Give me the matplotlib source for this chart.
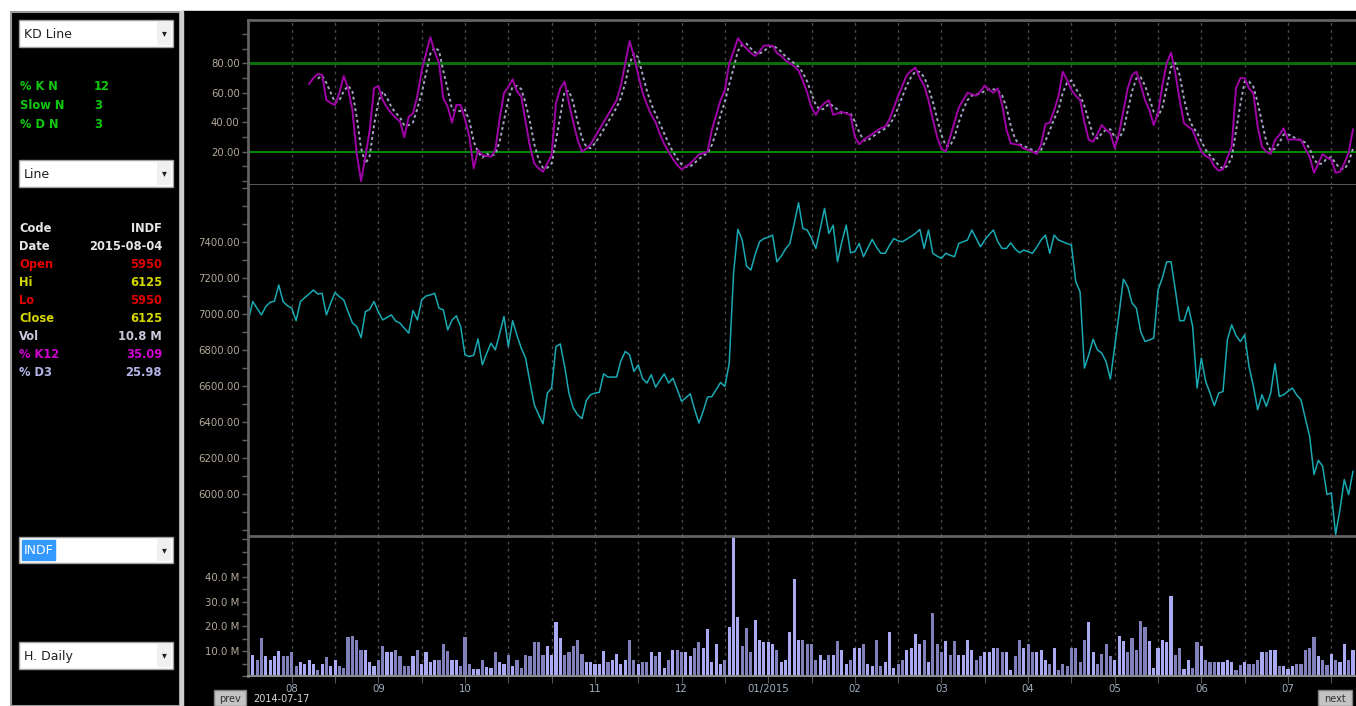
import numpy as np
import pandas as pd
import matplotlib
matplotlib.use('Agg')
import matplotlib.pyplot as plt
from matplotlib.patches import Rectangle
from matplotlib.ticker import FuncFormatter, MultipleLocator

# ---- data (INDF daily, 2014-07-17 .. 2015-08-04) ----
close = [6966, 7068, 7030, 6994, 7040, 7064, 7070, 7160, 7068, 7045,
         7031, 6962, 7068, 7090, 7110, 7132, 7110, 7114, 6994, 7060,
         7118, 7095, 7077, 7012, 6950, 6929, 6868, 7012, 7025, 7068,
         7010, 6966, 6980, 6994, 6960, 6948, 6920, 6893, 7018, 6966,
         7077, 7099, 7105, 7114, 7031, 7022, 6911, 6965, 6989, 6929,
         6772, 6763, 6770, 6861, 6717, 6780, 6837, 6800, 6890, 6985,
         6818, 6962, 6880, 6809, 6754, 6620, 6495, 6440, 6390, 6560,
         6588, 6818, 6833, 6708, 6560, 6477, 6440, 6418, 6519, 6551,
         6560, 6564, 6667, 6649, 6649, 6649, 6740, 6791, 6772, 6680,
         6717, 6640, 6616, 6662, 6593, 6630, 6667, 6616, 6643, 6580,
         6514, 6535, 6556, 6470, 6394, 6460, 6538, 6541, 6580, 6619,
         6597, 6726, 7225, 7469, 7409, 7265, 7243, 7330, 7400, 7418,
         7425, 7437, 7289, 7320, 7360, 7391, 7500, 7616, 7474, 7465,
         7420, 7363, 7470, 7585, 7446, 7492, 7289, 7400, 7492, 7339,
         7345, 7391, 7317, 7365, 7413, 7370, 7336, 7336, 7380, 7418,
         7405, 7400, 7415, 7430, 7446, 7469, 7363, 7465, 7336, 7320,
         7308, 7336, 7325, 7317, 7391, 7400, 7409, 7465, 7420, 7372,
         7410, 7440, 7465, 7400, 7363, 7363, 7394, 7360, 7339, 7354,
         7345, 7336, 7370, 7410, 7437, 7336, 7437, 7410, 7400, 7390,
         7382, 7178, 7123, 6699, 6772, 6859, 6800, 6782, 6735, 6638,
         6818, 7000, 7192, 7151, 7060, 7031, 6900, 6846, 6855, 6865,
         7132, 7200, 7289, 7289, 7132, 6962, 6962, 7040, 6929, 6588,
         6754, 6624, 6560, 6490, 6560, 6569, 6855, 6939, 6880, 6846,
         6883, 6708, 6600, 6468, 6551, 6486, 6560, 6723, 6541, 6551,
         6570, 6588, 6550, 6523, 6420, 6320, 6108, 6187, 6154, 5997,
         6006, 5775, 5914, 6080, 5997, 6125]

volume_m = [9.6, 8.3, 6.3, 15.3, 7.9, 6.3, 7.9, 9.9, 7.9, 7.9,
            9.5, 3.9, 5.5, 4.8, 6.3, 4.8, 2.3, 4.8, 7.6, 3.9,
            6.3, 3.9, 3.3, 15.9, 16.3, 14.7, 10.5, 10.5, 5.5, 3.9,
            6.3, 12.1, 9.5, 9.5, 10.5, 7.9, 3.9, 3.9, 7.9, 10.3,
            4.8, 9.5, 5.5, 6.3, 6.3, 12.7, 9.9, 6.3, 6.3, 3.9,
            15.9, 4.8, 2.7, 2.7, 6.3, 3.6, 3.3, 9.5, 5.5,
            4.8, 8.3, 3.9, 6.3, 3.3, 8.5, 7.9, 13.5, 13.5, 8.5,
            12.1, 8.5, 21.9, 15.2, 8.5, 9.5, 12.1, 14.5, 8.7, 5.5,
            5.5, 4.8, 4.8, 9.9, 5.5, 6.3, 8.7, 4.8, 6.3, 14.5,
            6.3, 4.8, 5.5, 5.5, 9.5, 7.9, 9.5, 3.3, 6.3, 10.5,
            10.5, 9.5, 9.5, 7.9, 11.3, 13.5, 11.3, 18.9, 5.5, 12.7,
            4.8, 6.3, 19.9, 56.0, 23.6, 11.9, 19.2, 9.5, 22.5, 14.5,
            13.6, 13.6, 12.7, 10.3, 5.5, 6.3, 17.9, 39.0, 14.5, 14.5,
            12.9, 12.9, 6.3, 8.5, 6.3, 8.3, 8.5, 13.9, 10.5, 4.8,
            6.3, 11.3, 11.3, 12.7, 4.8, 3.9, 14.7, 3.9, 5.5,
            17.6, 3.3, 4.8, 6.3, 10.3, 11.3, 16.9, 12.9, 14.5, 5.5,
            25.2, 12.7, 9.5, 13.9, 8.5, 13.9, 8.5, 8.5, 14.5, 10.5,
            6.3, 7.9, 9.5, 9.5, 11.3, 11.3, 9.5, 9.5, 2.3, 7.9,
            14.7, 11.3, 12.9, 9.5, 9.5, 10.5, 6.3, 4.8, 11.3, 2.3,
            4.8, 3.9, 11.3, 11.3, 5.5, 14.7, 21.9, 9.5, 4.8, 8.7,
            12.7, 7.9, 6.3, 16.3, 13.9, 9.5, 15.3, 10.5, 22.3, 19.9,
            13.9, 3.3, 11.3, 14.7, 13.6, 32.3, 8.5, 11.3, 2.9, 6.3,
            3.3, 13.6, 12.0, 6.3, 5.5, 5.5, 5.5, 5.5, 6.3, 5.5,
            2.3, 4.3, 5.5, 4.8, 4.8, 6.3, 9.5, 9.5, 10.5, 10.3,
            3.9, 3.9, 2.9, 3.9, 4.8, 4.8, 10.3, 11.3, 15.9, 7.9,
            6.3, 4.3, 8.7, 6.3, 5.5, 12.7, 6.3, 10.5]

# stochastic %K (12, slow 3) from day 14 on
k_start = 14
k_line = [66, 70, 72.8, 72.1, 55.1, 53, 51.7, 60, 71.4, 63.1,
          48.3, 18.9, 0, 16.6, 34.7, 63.1, 64.6, 55.1, 50, 46.1,
          43, 40.4, 29.8, 43.8, 46.1, 58, 75, 86.8, 97.7, 87.9,
          80.1, 56.3, 50.6, 39.7, 51.7, 51.7, 42, 30.2, 8.7, 21.2,
          17.8, 17, 16.6, 21.2, 42.7, 59.7, 64, 69.2, 60.8, 57.4,
          40, 23.4, 12, 8.7, 6.4, 12, 17.8, 52.9, 63.1, 67.6,
          52.9, 40, 28, 20,
          22, 25, 30, 35, 40, 45, 50, 55, 65, 80,
          95, 85, 72, 60, 52, 45, 40, 32, 25, 20,
          15, 11, 8, 10, 12, 15, 18, 19, 20, 35,
          45, 55, 62, 80, 88, 97, 93, 90, 87, 85,
          88, 92, 92, 92, 87, 85, 82, 80, 78, 75,
          68, 60, 50, 45, 50, 53, 55, 45, 46, 47,
          46, 45, 30, 25, 28, 30, 32, 34, 36, 37,
          42, 50, 58, 65, 72, 75, 77, 70, 65, 55,
          42, 30, 22, 20, 30, 40, 50, 55, 60, 59,
          58, 61, 65, 62, 60, 63,
          52, 35, 25.7, 25, 24.6, 22, 21.2, 20, 18.4, 25,
          38.8, 39.7, 48, 57.4, 74.3, 68.7, 61.9, 58, 55.1, 40,
          28, 26.8, 32, 38.1, 35, 32.5, 22.3, 32.5, 48, 63.1,
          72, 74.3, 65.3, 55, 48.3, 38.1, 46.1, 65, 80, 87.3,
          73.3, 55, 39.3, 37, 34.7, 27, 20, 17, 15.5, 10,
          7.1, 8, 16, 23.4, 63.1, 69.9, 69.9, 63, 59.7, 37,
          23.4, 20, 18.4, 28, 31.3, 35.9, 28, 28.4, 28.2, 28,
          22, 16.6, 5.7, 12.1, 18.4, 16, 14.4, 5.7, 6.4, 12,
          19.3, 35.09]

month_days = [10, 30, 50, 80, 100, 120, 140, 160, 180, 200, 220, 240]
month_labels = ['08', '09', '10', '11', '12', '01/2015', '02', '03', '04', '05', '06', '07']

info_rows = [('Code', 'INDF', '#e6e6e6', '#e6e6e6'),
             ('Date', '2015-08-04', '#e6e6e6', '#e6e6e6'),
             ('Open', '5950', '#e00000', '#e00000'),
             ('Hi', '6125', '#d6d600', '#d6d600'),
             ('Lo', '5950', '#e00000', '#e00000'),
             ('Close', '6125', '#d6d600', '#d6d600'),
             ('Vol', '10.8 M', '#c8c8dc', '#c8c8dc'),
             ('% K12', '35.09', '#d000d0', '#d000d0'),
             ('% D3', '25.98', '#b4b4e6', '#b4b4e6')]
kd_params = [('% K N', '12'), ('Slow N', '3'), ('% D N', '3')]

# ---- derived ----
days = np.arange(len(close))
k = pd.Series(k_line, index=np.arange(k_start, k_start + len(k_line)))
d = k.rolling(3).mean()
up = np.r_[True, np.diff(close) >= 0]
bar_colors = np.where(up, '#aaaaf2', '#8080ba')
grid_days = np.arange(10, len(close), 10)

W, H = 1356, 706
fig = plt.figure(figsize=(W / 100, H / 100), dpi=100, facecolor='white')

# background / side panel (pixel coordinates)
bg = fig.add_axes([0, 0, 1, 1])
bg.set_xlim(0, W)
bg.set_ylim(H, 0)
bg.axis('off')
bg.add_patch(Rectangle((182, 11), W - 182, H - 11, color='black'))
bg.add_patch(Rectangle((11, 12), 169, H - 12, facecolor='black', edgecolor='#9a9a9a', lw=1.5))
bg.add_patch(Rectangle((180, 11), 2.5, H - 11, color='#d0d0d0'))


def combo(y0, y1, text, highlight=False):
    bg.add_patch(Rectangle((19, y0), 154, y1 - y0, facecolor='white', edgecolor='#a0a0a0', lw=1))
    bg.add_patch(Rectangle((157, y0 + 2), 14, y1 - y0 - 4, facecolor='#f0f0f0', edgecolor='none'))
    bg.text(164, (y0 + y1) / 2, '\u25BE', color='#202020', fontsize=7, ha='center', va='center')
    if highlight:
        bg.add_patch(Rectangle((22, y0 + 3), 33, y1 - y0 - 6, color='#3399ff'))
        bg.text(24, (y0 + y1) / 2 + 1, text, color='white', fontsize=9, ha='left', va='center')
    else:
        bg.text(24, (y0 + y1) / 2 + 1, text, color='#202020', fontsize=9, ha='left', va='center')


combo(20, 47, 'KD Line')
combo(160, 187, 'Line')
combo(537, 563, 'INDF', highlight=True)
combo(642, 669, 'H. Daily')

for i, (lab, val) in enumerate(kd_params):
    y = 87 + i * 18.5
    bg.text(20, y, lab, color='#10c810', fontsize=8.3, fontweight='bold', va='center')
    bg.text(94, y, val, color='#10c810', fontsize=8.3, fontweight='bold', va='center')

for i, (lab, val, c1, c2) in enumerate(info_rows):
    y = 228 + i * 18.1
    bg.text(19, y, lab, color=c1, fontsize=8.3, fontweight='bold', va='center')
    bg.text(162, y, val, color=c2, fontsize=8.3, fontweight='bold', va='center', ha='right')

# bottom navigation
bg.add_patch(Rectangle((214, 690), 32, 16, facecolor='#c4c4c4', edgecolor='#808080', lw=1))
bg.text(230, 699, 'prev', color='#303030', fontsize=7, ha='center', va='center')
bg.text(253, 699, '2014-07-17', color='#d8d8d8', fontsize=7, ha='left', va='center')
bg.add_patch(Rectangle((1318, 690), 34, 16, facecolor='#c4c4c4', edgecolor='#808080', lw=1))
bg.text(1335, 699, 'next', color='#303030', fontsize=7, ha='center', va='center')

# ---- chart panels ----
x0 = 248 / W
wd = (W - 248) / W
ax_k = fig.add_axes([x0, 1 - 185 / H, wd, 165 / H])
ax_p = fig.add_axes([x0, 1 - 536 / H, wd, 351 / H])
ax_v = fig.add_axes([x0, 1 - 676 / H, wd, 140 / H])

spine_c = '#626262'
label_c = '#b4aa9a'
xlim = (-0.1, (W - 248.3) / 4.332)

for ax in (ax_k, ax_p, ax_v):
    ax.set_facecolor('black')
    ax.set_xlim(*xlim)
    ax.spines['right'].set_visible(False)
    for s in ('left', 'top', 'bottom'):
        ax.spines[s].set_color(spine_c)
        ax.spines[s].set_linewidth(2)
    ax.set_xticks(grid_days)
    ax.grid(axis='x', color='#4c4c4c', linestyle=(0, (2, 3)), lw=1)
    ax.tick_params(axis='x', length=0, labelbottom=False)
    ax.tick_params(axis='y', which='both', direction='out', color=spine_c,
                   labelcolor=label_c, labelsize=7.3, length=4, width=1, pad=2)
    ax.set_axisbelow(True)

ax_p.spines['top'].set_visible(False)
ax_p.spines['bottom'].set_visible(False)

# KD panel
ax_k.set_ylim(-2.6, 109.4)
ax_k.axhline(80, color='#0a6e0a', lw=2.2)
ax_k.axhline(20, color='#009a00', lw=1.3)
ax_k.plot(d.index, d.values, color='#a4a4c4', lw=1.4, linestyle=(0, (1.5, 1.5)))
ax_k.plot(k.index, k.values, color='#a000a8', lw=1.4)
ax_k.set_yticks([20, 40, 60, 80])
ax_k.yaxis.set_minor_locator(MultipleLocator(10))
ax_k.yaxis.set_major_formatter(FuncFormatter(lambda v, p: f'{v:.2f}'))

# price panel
ax_p.set_ylim(5767, 7715)
ax_p.plot(days, close, color='#1aa9b3', lw=1.1)
ax_p.set_yticks(np.arange(6000, 7401, 200))
ax_p.yaxis.set_minor_locator(MultipleLocator(100))
ax_p.yaxis.set_major_formatter(FuncFormatter(lambda v, p: f'{v:.2f}'))

# volume panel
ax_v.set_ylim(0, 56.4)
ax_v.bar(days, volume_m, width=0.72, color=bar_colors, linewidth=0)
ax_v.set_yticks([10, 20, 30, 40])
ax_v.yaxis.set_minor_locator(MultipleLocator(5))
ax_v.yaxis.set_major_formatter(FuncFormatter(lambda v, p: f'{v:.1f} M'))
ax_v.spines['bottom'].set_color('#8a8a8a')
ax_v.spines['bottom'].set_linewidth(1.5)
ax_v.tick_params(axis='x', length=5, color='#555555', labelbottom=True,
                 labelcolor='#9fb0c4', labelsize=7.3, pad=0.5)
lab_map = dict(zip(month_days, month_labels))
ax_v.set_xticklabels([lab_map.get(int(g), '') for g in grid_days])

fig.savefig('out.png', dpi=100, facecolor='white')
